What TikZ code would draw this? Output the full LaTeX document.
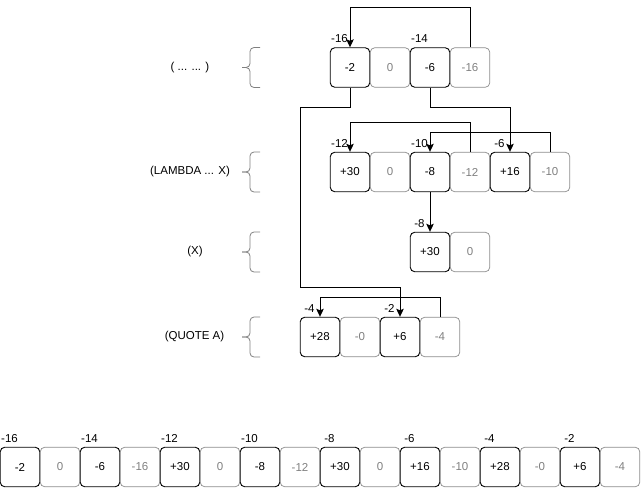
\documentclass[tikz,border=0pt]{standalone}
\usepackage{fontspec}
\setmainfont{Liberation Sans}
\usetikzlibrary{arrows.meta}
\definecolor{cdrtext}{HTML}{808080}
\definecolor{cdrline}{HTML}{8C8C8C}
\begin{document}
\begin{tikzpicture}[x=1pt,y=-1pt,
  every node/.style={font=\fontsize{11.5}{13}\selectfont},
  car/.style={draw=black, rounded corners=4.5pt, minimum width=39.5pt,
              minimum height=39.5pt, inner sep=0pt, line width=0.9pt},
  cdr/.style={car, draw=cdrline, text=cdrtext, line width=0.7pt},
  addr/.style={anchor=base, inner sep=0pt},
  form/.style={anchor=center, inner sep=0pt},
  ptr/.style={line width=1pt, -{Stealth[length=8pt,width=7.5pt,inset=1.5pt]}},
  brace/.style={draw=cdrtext, line width=0.8pt, rounded corners=4pt}]
\useasboundingbox (0,0) rectangle (641,488);

% ---- source forms ----
\node[form] (f1) at (190,68)  {( ... ... )};
\node[form] (f2) at (190,172) {(LAMBDA ... X)};
\node[form] (f3) at (195,252) {(X)};
\node[form] (f4) at (194.5,337) {(QUOTE A)};

% braces
\foreach \yt/\yb in {47.5/87.5, 152/192, 232/272, 317/357}{
  \pgfmathsetmacro{\ym}{(\yt+\yb)/2}
  \draw[brace] (260,\yt) -- (250,\yt) -- (250,\ym) -- (242,\ym);
  \draw[brace] (260,\yb) -- (250,\yb) -- (250,\ym) -- (242,\ym);
}

% ---- ( ... ... ) ----
\node[car] (t1) at (350,67.5) {-2};
\node[cdr] (t2) at (390,67.5) {0};
\node[car] (t3) at (430,67.5) {-6};
\node[cdr] (t4) at (470,67.5) {-16};
\node[addr] (at1) at (339.5,42.5) {-16};
\node[addr] (at3) at (419.5,42.5) {-14};

% ---- (LAMBDA ... X) ----
\node[car] (l1) at (350,172) {+30};
\node[cdr] (l2) at (390,172) {0};
\node[car] (l3) at (430,172) {-8};
\node[cdr] (l4) at (470,172) {-12};
\node[car] (l5) at (510,172) {+16};
\node[cdr] (l6) at (550,172) {-10};
\node[addr] (al1) at (339.5,147) {-12};
\node[addr] (al3) at (419.5,147) {-10};
\node[addr] (al5) at (499.5,147) {-6};

% ---- (X) ----
\node[car] (x1) at (430,252) {+30};
\node[cdr] (x2) at (470,252) {0};
\node[addr] (ax1) at (419.5,227) {-8};

% ---- (QUOTE A) ----
\node[car] (q1) at (320,337) {+28};
\node[cdr] (q2) at (360,337) {-0};
\node[car] (q3) at (400,337) {+6};
\node[cdr] (q4) at (440,337) {-4};
\node[addr] (aq1) at (309.5,312) {-4};
\node[addr] (aq3) at (389.5,312) {-2};

% ---- memory as one vector ----
\foreach [count=\i] \v/\k in {-2/car,0/cdr,-6/car,-16/cdr,+30/car,0/cdr,-8/car,-12/cdr,
                              +30/car,0/cdr,+16/car,-10/cdr,+28/car,-0/cdr,+6/car,-4/cdr}{
  \node[\k] (b\i) at ({40*\i-20},467) {\v};
}
\foreach [count=\i] \a in {-16,-14,-12,-10,-8,-6,-4,-2}{
  \node[addr] (ab\i) at ({80*\i-70.5},442) {\a};
}

% ---- pointers ----
\draw[ptr] (t4.north) -- (t4.north |- 0,7.5) -| (t1.north);
\draw[ptr] (t1.south) |- (300.5,107.5) |- (q3.north |- 0,287.5) -- (q3.north);
\draw[ptr] (t3.south) |- (l5.north |- 0,107.5) -- (l5.north);
\draw[ptr] (l4.north) -- (l4.north |- 0,122.5) -| (l1.north);
\draw[ptr] (l6.north) -- (l6.north |- 0,132.5) -| (l3.north);
\draw[ptr] (l3.south) -- (x1.north);
\draw[ptr] (q4.north) -- (q4.north |- 0,297.5) -| (q1.north);
\end{tikzpicture}
\end{document}
